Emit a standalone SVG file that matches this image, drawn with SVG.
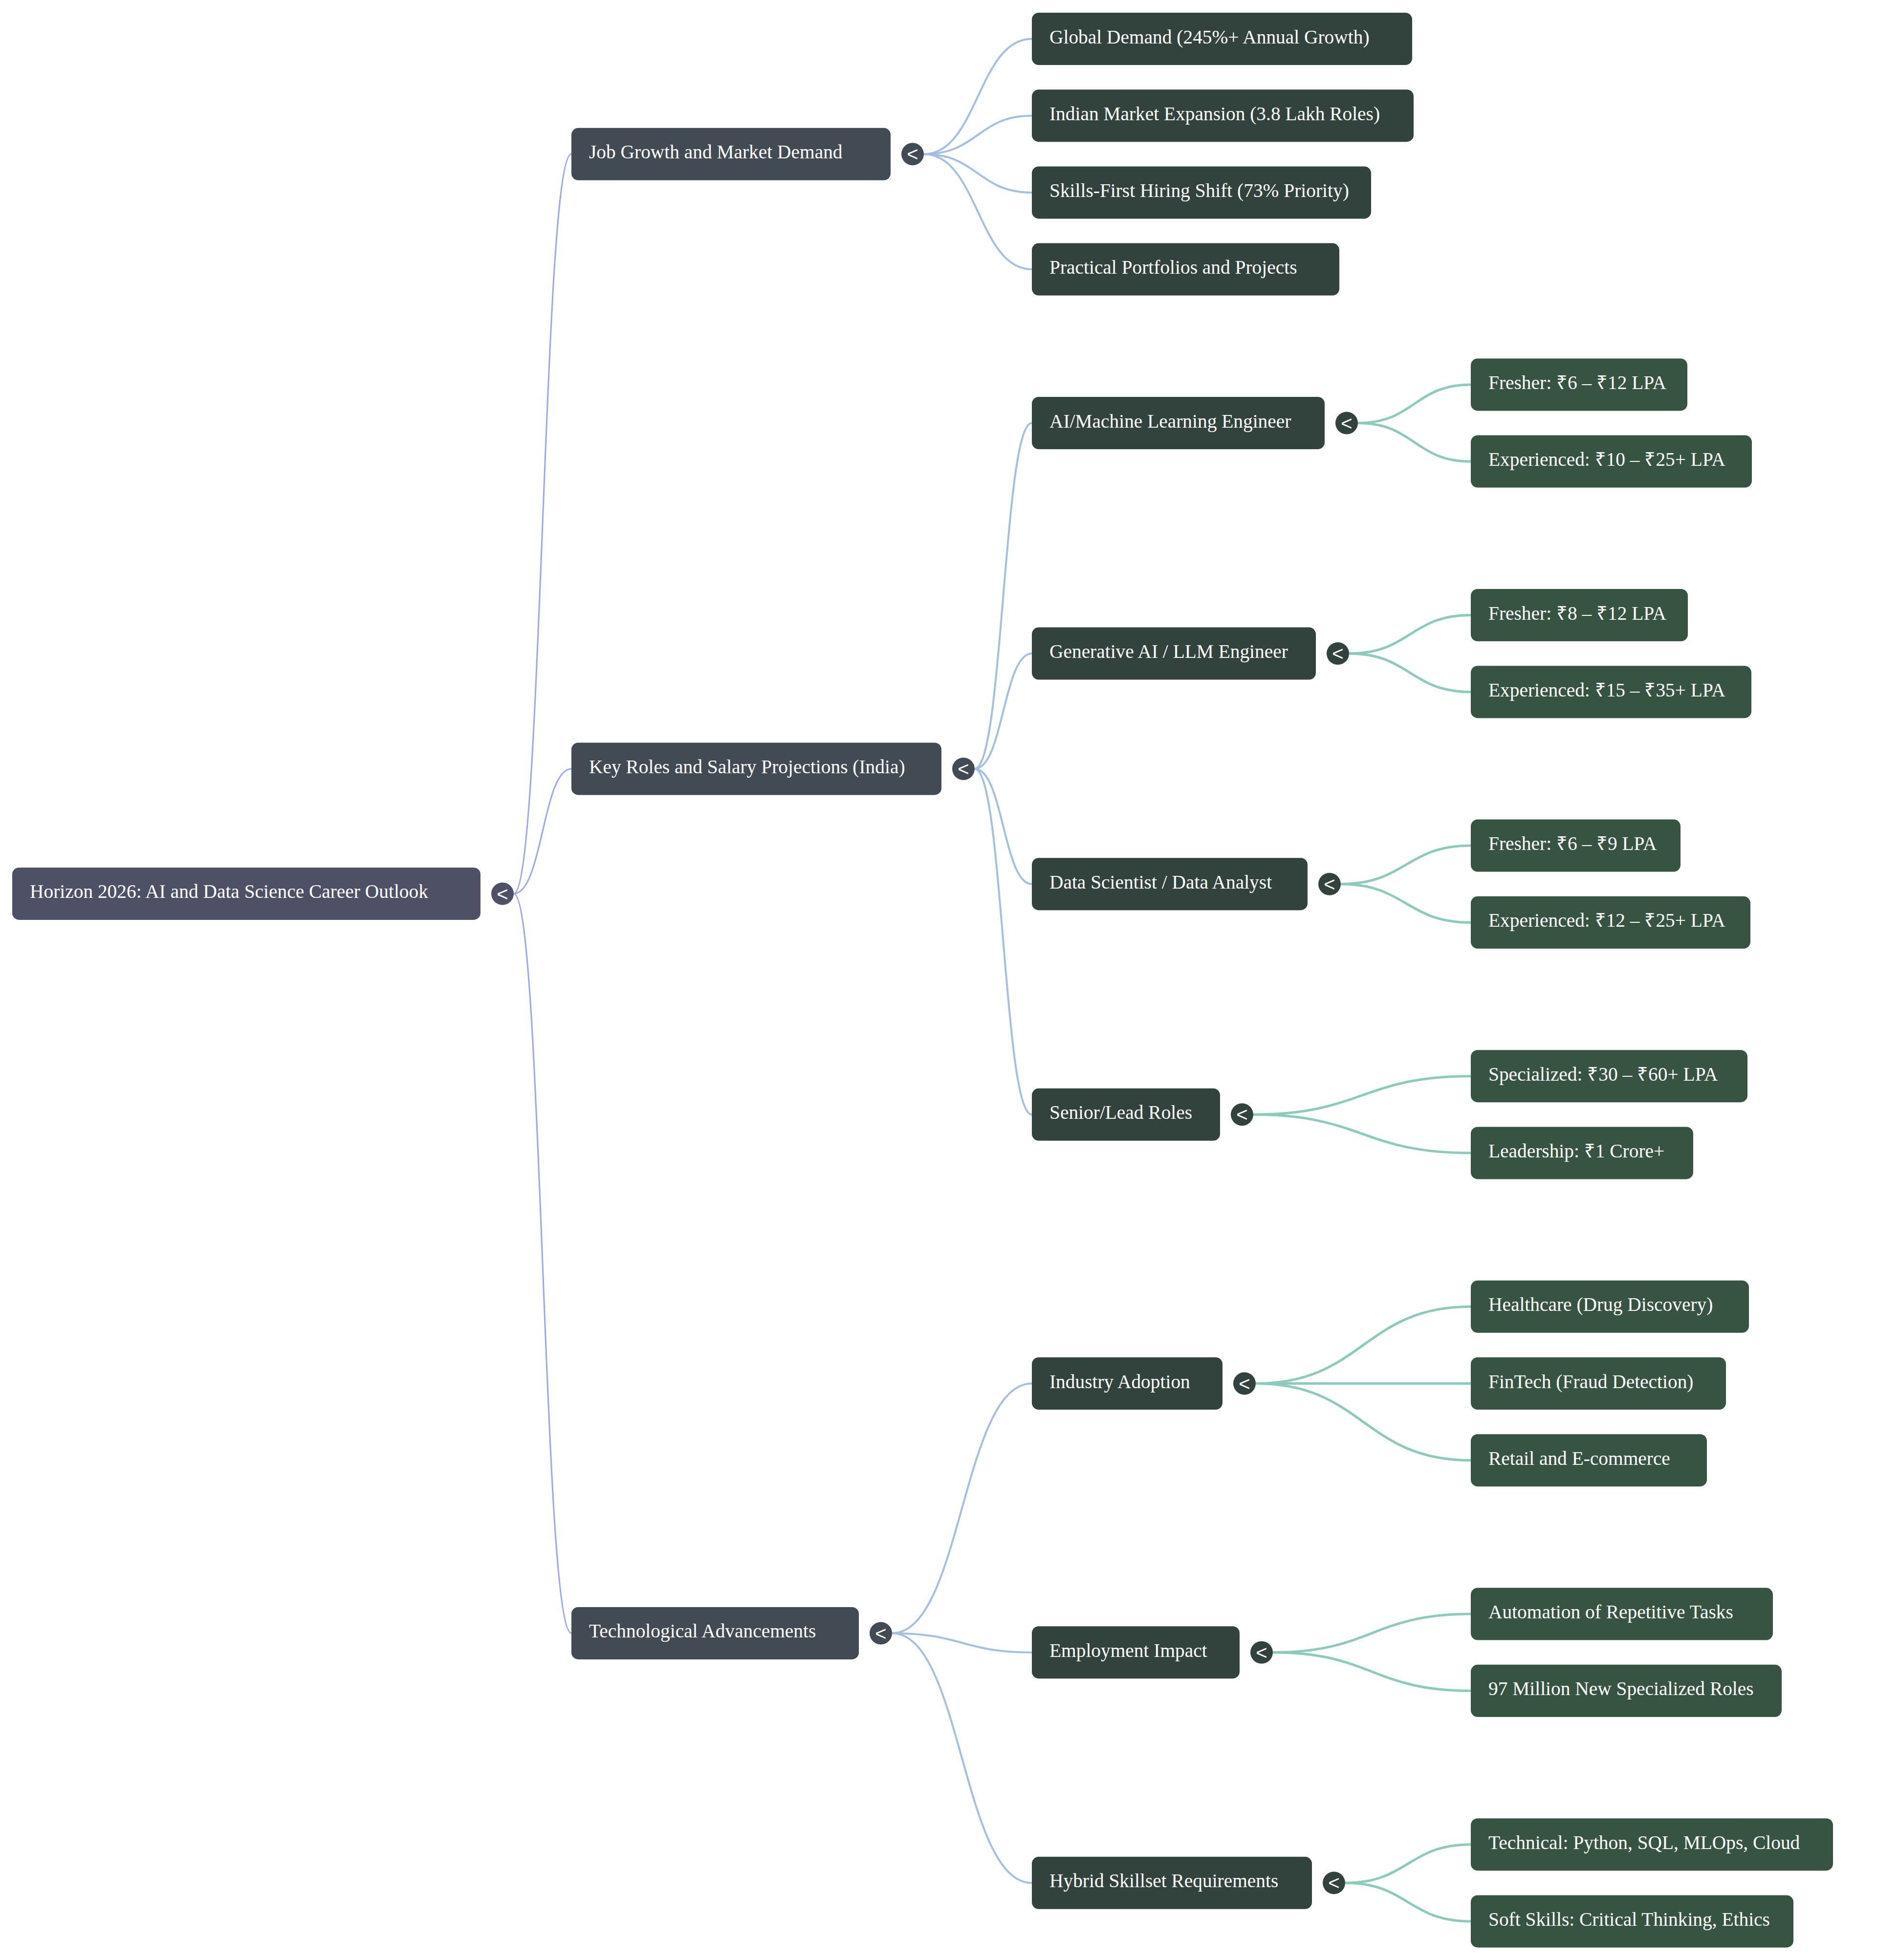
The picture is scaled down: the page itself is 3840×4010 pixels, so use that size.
<svg xmlns="http://www.w3.org/2000/svg" width="3840" height="4010" viewBox="0 0 3840 4010">
<style>
.t{font-family:"Liberation Serif","Times New Roman",serif;font-size:39.4px;fill:#ffffff}
.tg{font-family:"Liberation Sans",Arial,sans-serif;font-size:40px;fill:#ffffff;text-anchor:middle}
.n0{fill:#4e5166}
.n1{fill:#424a53}
.n2{fill:#32423d}
.n3{fill:#375442}
.c0{fill:none;stroke:#9ba6f2;stroke-width:3}
.c1{fill:none;stroke:#a4bfdf;stroke-width:4}
.c2{fill:none;stroke:#8ccbbb;stroke-width:5}
</style>
<rect width="3840" height="4010" fill="#ffffff"/>
<g id="connectors">
<path class="c0" d="M1051,1828.4 C1110,1828.4 1110,315.3 1169,315.3"/>
<path class="c0" d="M1051,1828.4 C1110,1828.4 1110,1572.9 1169,1572.9"/>
<path class="c0" d="M1051,1828.4 C1110,1828.4 1110,3341.4 1169,3341.4"/>
<path class="c1" d="M1890,315.3 C2000.5,315.3 2000.5,79.5 2111,79.5"/>
<path class="c1" d="M1890,315.3 C2000.5,315.3 2000.5,236.7 2111,236.7"/>
<path class="c1" d="M1890,315.3 C2000.5,315.3 2000.5,393.9 2111,393.9"/>
<path class="c1" d="M1890,315.3 C2000.5,315.3 2000.5,551.1 2111,551.1"/>
<path class="c1" d="M1994,1572.9 C2052.5,1572.9 2052.5,865.5 2111,865.5"/>
<path class="c1" d="M1994,1572.9 C2052.5,1572.9 2052.5,1337.1 2111,1337.1"/>
<path class="c1" d="M1994,1572.9 C2052.5,1572.9 2052.5,1808.7 2111,1808.7"/>
<path class="c1" d="M1994,1572.9 C2052.5,1572.9 2052.5,2280.3 2111,2280.3"/>
<path class="c1" d="M1825,3341.4 C1968,3341.4 1968,2830.5 2111,2830.5"/>
<path class="c1" d="M1825,3341.4 C1968,3341.4 1968,3380.7 2111,3380.7"/>
<path class="c1" d="M1825,3341.4 C1968,3341.4 1968,3852.3 2111,3852.3"/>
<path class="c2" d="M2778,865.5 C2893.5,865.5 2893.5,786.9 3009,786.9"/>
<path class="c2" d="M2778,865.5 C2893.5,865.5 2893.5,944.1 3009,944.1"/>
<path class="c2" d="M2760,1337.1 C2884.5,1337.1 2884.5,1258.5 3009,1258.5"/>
<path class="c2" d="M2760,1337.1 C2884.5,1337.1 2884.5,1415.7 3009,1415.7"/>
<path class="c2" d="M2743,1808.7 C2876,1808.7 2876,1730.1 3009,1730.1"/>
<path class="c2" d="M2743,1808.7 C2876,1808.7 2876,1887.3 3009,1887.3"/>
<path class="c2" d="M2564,2280.3 C2786.5,2280.3 2786.5,2201.7 3009,2201.7"/>
<path class="c2" d="M2564,2280.3 C2786.5,2280.3 2786.5,2358.9 3009,2358.9"/>
<path class="c2" d="M2569,2830.5 C2789,2830.5 2789,2673.3 3009,2673.3"/>
<path class="c2" d="M2569,2830.5 C2789,2830.5 2789,2830.5 3009,2830.5"/>
<path class="c2" d="M2569,2830.5 C2789,2830.5 2789,2987.7 3009,2987.7"/>
<path class="c2" d="M2604,3380.7 C2806.5,3380.7 2806.5,3302.1 3009,3302.1"/>
<path class="c2" d="M2604,3380.7 C2806.5,3380.7 2806.5,3459.3 3009,3459.3"/>
<path class="c2" d="M2752,3852.3 C2880.5,3852.3 2880.5,3773.7 3009,3773.7"/>
<path class="c2" d="M2752,3852.3 C2880.5,3852.3 2880.5,3930.9 3009,3930.9"/>
</g>
<g id="root">
<rect class="n0" x="25" y="1774.9" width="958" height="107" rx="14"/>
<text class="t" x="61" y="1837.4">Horizon 2026: AI and Data Science Career Outlook</text>
<circle class="n0" cx="1028" cy="1828.4" r="23"/>
<text class="tg" x="1028" y="1842.5">&lt;</text>
</g>
<g id="job-growth">
<rect class="n1" x="1169" y="261.8" width="653" height="107" rx="14"/>
<text class="t" x="1205" y="324.3">Job Growth and Market Demand</text>
<circle class="n1" cx="1867" cy="315.3" r="23"/>
<text class="tg" x="1867" y="329.4">&lt;</text>
</g>
<g id="key-roles">
<rect class="n1" x="1169" y="1519.4" width="757" height="107" rx="14"/>
<text class="t" x="1205" y="1581.9">Key Roles and Salary Projections (India)</text>
<circle class="n1" cx="1971" cy="1572.9" r="23"/>
<text class="tg" x="1971" y="1587">&lt;</text>
</g>
<g id="tech-adv">
<rect class="n1" x="1169" y="3287.9" width="588" height="107" rx="14"/>
<text class="t" x="1205" y="3350.4">Technological Advancements</text>
<circle class="n1" cx="1802" cy="3341.4" r="23"/>
<text class="tg" x="1802" y="3355.5">&lt;</text>
</g>
<g id="global-demand">
<rect class="n2" x="2111" y="26" width="778" height="107" rx="14"/>
<text class="t" x="2147" y="88.5">Global Demand (245%+ Annual Growth)</text>
</g>
<g id="indian-market">
<rect class="n2" x="2111" y="183.2" width="781" height="107" rx="14"/>
<text class="t" x="2147" y="245.7">Indian Market Expansion (3.8 Lakh Roles)</text>
</g>
<g id="skills-first">
<rect class="n2" x="2111" y="340.4" width="694" height="107" rx="14"/>
<text class="t" x="2147" y="402.9">Skills-First Hiring Shift (73% Priority)</text>
</g>
<g id="portfolios">
<rect class="n2" x="2111" y="497.6" width="629" height="107" rx="14"/>
<text class="t" x="2147" y="560.1">Practical Portfolios and Projects</text>
</g>
<g id="aiml">
<rect class="n2" x="2111" y="812" width="599" height="107" rx="14"/>
<text class="t" x="2147" y="874.5">AI/Machine Learning Engineer</text>
<circle class="n2" cx="2755" cy="865.5" r="23"/>
<text class="tg" x="2755" y="879.6">&lt;</text>
</g>
<g id="genai">
<rect class="n2" x="2111" y="1283.6" width="581" height="107" rx="14"/>
<text class="t" x="2147" y="1346.1">Generative AI / LLM Engineer</text>
<circle class="n2" cx="2737" cy="1337.1" r="23"/>
<text class="tg" x="2737" y="1351.2">&lt;</text>
</g>
<g id="datasci">
<rect class="n2" x="2111" y="1755.2" width="564" height="107" rx="14"/>
<text class="t" x="2147" y="1817.7">Data Scientist / Data Analyst</text>
<circle class="n2" cx="2720" cy="1808.7" r="23"/>
<text class="tg" x="2720" y="1822.8">&lt;</text>
</g>
<g id="senior">
<rect class="n2" x="2111" y="2226.8" width="385" height="107" rx="14"/>
<text class="t" x="2147" y="2289.3">Senior/Lead Roles</text>
<circle class="n2" cx="2541" cy="2280.3" r="23"/>
<text class="tg" x="2541" y="2294.4">&lt;</text>
</g>
<g id="industry">
<rect class="n2" x="2111" y="2777" width="390" height="107" rx="14"/>
<text class="t" x="2147" y="2839.5">Industry Adoption</text>
<circle class="n2" cx="2546" cy="2830.5" r="23"/>
<text class="tg" x="2546" y="2844.6">&lt;</text>
</g>
<g id="employment">
<rect class="n2" x="2111" y="3327.2" width="425" height="107" rx="14"/>
<text class="t" x="2147" y="3389.7">Employment Impact</text>
<circle class="n2" cx="2581" cy="3380.7" r="23"/>
<text class="tg" x="2581" y="3394.8">&lt;</text>
</g>
<g id="hybrid">
<rect class="n2" x="2111" y="3798.8" width="573" height="107" rx="14"/>
<text class="t" x="2147" y="3861.3">Hybrid Skillset Requirements</text>
<circle class="n2" cx="2729" cy="3852.3" r="23"/>
<text class="tg" x="2729" y="3866.4">&lt;</text>
</g>
<g id="aiml-fresher">
<rect class="n3" x="3009" y="733.4" width="443" height="107" rx="14"/>
<text class="t" x="3045" y="795.9">Fresher: ₹6 – ₹12 LPA</text>
</g>
<g id="aiml-exp">
<rect class="n3" x="3009" y="890.6" width="575" height="107" rx="14"/>
<text class="t" x="3045" y="953.1">Experienced: ₹10 – ₹25+ LPA</text>
</g>
<g id="genai-fresher">
<rect class="n3" x="3009" y="1205" width="444" height="107" rx="14"/>
<text class="t" x="3045" y="1267.5">Fresher: ₹8 – ₹12 LPA</text>
</g>
<g id="genai-exp">
<rect class="n3" x="3009" y="1362.2" width="574" height="107" rx="14"/>
<text class="t" x="3045" y="1424.7">Experienced: ₹15 – ₹35+ LPA</text>
</g>
<g id="ds-fresher">
<rect class="n3" x="3009" y="1676.6" width="429" height="107" rx="14"/>
<text class="t" x="3045" y="1739.1">Fresher: ₹6 – ₹9 LPA</text>
</g>
<g id="ds-exp">
<rect class="n3" x="3009" y="1833.8" width="572" height="107" rx="14"/>
<text class="t" x="3045" y="1896.3">Experienced: ₹12 – ₹25+ LPA</text>
</g>
<g id="specialized">
<rect class="n3" x="3009" y="2148.2" width="566" height="107" rx="14"/>
<text class="t" x="3045" y="2210.7">Specialized: ₹30 – ₹60+ LPA</text>
</g>
<g id="leadership">
<rect class="n3" x="3009" y="2305.4" width="455" height="107" rx="14"/>
<text class="t" x="3045" y="2367.9">Leadership: ₹1 Crore+</text>
</g>
<g id="healthcare">
<rect class="n3" x="3009" y="2619.8" width="569" height="107" rx="14"/>
<text class="t" x="3045" y="2682.3">Healthcare (Drug Discovery)</text>
</g>
<g id="fintech">
<rect class="n3" x="3009" y="2777" width="522" height="107" rx="14"/>
<text class="t" x="3045" y="2839.5">FinTech (Fraud Detection)</text>
</g>
<g id="retail">
<rect class="n3" x="3009" y="2934.2" width="483" height="107" rx="14"/>
<text class="t" x="3045" y="2996.7">Retail and E-commerce</text>
</g>
<g id="automation">
<rect class="n3" x="3009" y="3248.6" width="618" height="107" rx="14"/>
<text class="t" x="3045" y="3311.1">Automation of Repetitive Tasks</text>
</g>
<g id="new-roles">
<rect class="n3" x="3009" y="3405.8" width="636" height="107" rx="14"/>
<text class="t" x="3045" y="3468.3">97 Million New Specialized Roles</text>
</g>
<g id="technical">
<rect class="n3" x="3009" y="3720.2" width="741" height="107" rx="14"/>
<text class="t" x="3045" y="3782.7">Technical: Python, SQL, MLOps, Cloud</text>
</g>
<g id="soft-skills">
<rect class="n3" x="3009" y="3877.4" width="660" height="107" rx="14"/>
<text class="t" x="3045" y="3939.9">Soft Skills: Critical Thinking, Ethics</text>
</g>
</svg>
